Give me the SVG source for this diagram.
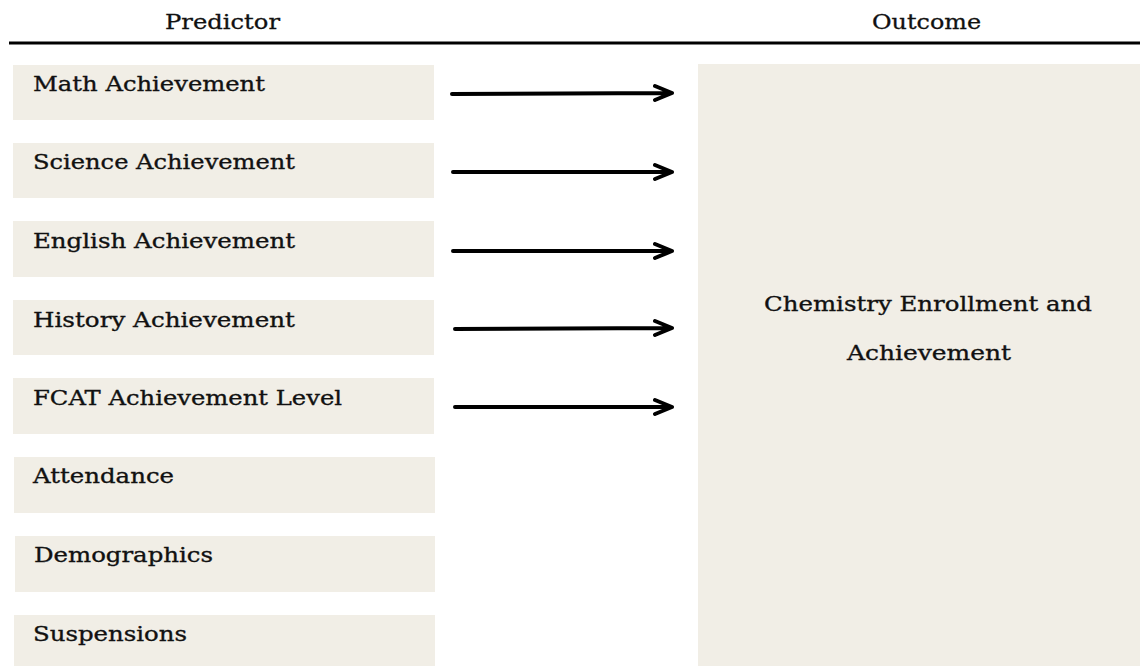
<svg xmlns="http://www.w3.org/2000/svg" width="1140" height="666" viewBox="0 0 1140 666">
<style>
.box{fill:#f1eee6}
.t{font-family:"DejaVu Serif","Liberation Serif",serif;font-size:21px;fill:#111;stroke:#111;stroke-width:0.35}
.h{font-family:"DejaVu Serif","Liberation Serif",serif;font-size:20px;fill:#111;stroke:#111;stroke-width:0.3}
.c{stroke:#000;stroke-width:4;fill:none;stroke-linecap:round;stroke-linejoin:round}
</style>
<rect width="1140" height="666" fill="#fff"/>
<text class="h" x="165" y="29" textLength="115" lengthAdjust="spacingAndGlyphs">Predictor</text>
<text class="h" x="872" y="29" textLength="109" lengthAdjust="spacingAndGlyphs">Outcome</text>
<line x1="9" y1="43" x2="1140" y2="43" stroke="#000" stroke-width="3"/>
<g id="n1"><rect class="box" x="13" y="65" width="421" height="55"/><text class="t" x="33" y="91" textLength="232" lengthAdjust="spacingAndGlyphs">Math Achievement</text></g>
<g id="n2"><rect class="box" x="13" y="143" width="421" height="55"/><text class="t" x="33" y="169" textLength="262" lengthAdjust="spacingAndGlyphs">Science Achievement</text></g>
<g id="n3"><rect class="box" x="13" y="221" width="421" height="56"/><text class="t" x="33" y="248" textLength="262" lengthAdjust="spacingAndGlyphs">English Achievement</text></g>
<g id="n4"><rect class="box" x="13" y="300" width="421" height="55"/><text class="t" x="33" y="327" textLength="262" lengthAdjust="spacingAndGlyphs">History Achievement</text></g>
<g id="n5"><rect class="box" x="13" y="378" width="421" height="56"/><text class="t" x="33" y="405" textLength="309" lengthAdjust="spacingAndGlyphs">FCAT Achievement Level</text></g>
<g id="n6"><rect class="box" x="14" y="457" width="421" height="56"/><text class="t" x="33" y="483" textLength="141" lengthAdjust="spacingAndGlyphs">Attendance</text></g>
<g id="n7"><rect class="box" x="15" y="536" width="420" height="56"/><text class="t" x="34" y="562" textLength="179" lengthAdjust="spacingAndGlyphs">Demographics</text></g>
<g id="n8"><rect class="box" x="14" y="615" width="421" height="51"/><text class="t" x="33" y="641" textLength="154" lengthAdjust="spacingAndGlyphs">Suspensions</text></g>
<g id="outcome"><rect class="box" x="698" y="64" width="442" height="602"/>
<text class="t" x="764" y="311" textLength="328" lengthAdjust="spacingAndGlyphs">Chemistry Enrollment and</text>
<text class="t" x="847" y="360" textLength="164" lengthAdjust="spacingAndGlyphs">Achievement</text></g>
<g id="connectors">
<path class="c" d="M452 94 L672 93 M655 86 L672 93 L655 100"/>
<path class="c" d="M453 172 L672 172 M655 165 L672 172 L655 179"/>
<path class="c" d="M453 251 L672 251 M655 244 L672 251 L655 258"/>
<path class="c" d="M455 329 L672 328 M655 321 L672 328 L655 335"/>
<path class="c" d="M455 407 L672 407 M655 400 L672 407 L655 414"/>
</g>
</svg>
